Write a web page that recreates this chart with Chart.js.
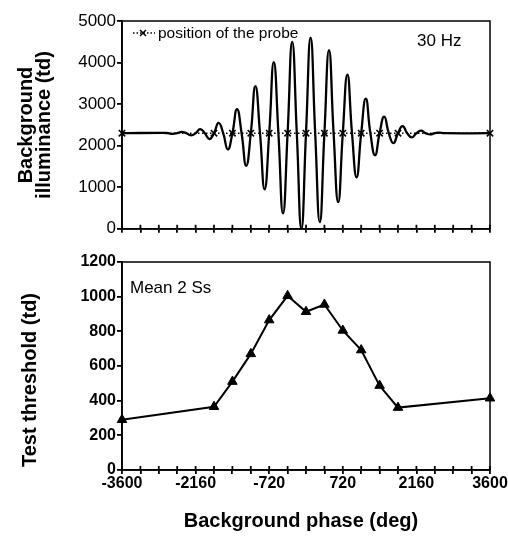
<!DOCTYPE html>
<html>
<head>
<meta charset="utf-8">
<script src="https://cdn.jsdelivr.net/npm/chart.js@4.4.1/dist/chart.umd.min.js"></script>
<style>
  html, body { margin: 0; padding: 0; background: #fff; }
  #wrap { position: relative; width: 508px; height: 544px; font-family: 'Liberation Sans', Arial, sans-serif; color: #000; }
  canvas { position: absolute; left: 0; }
  #chart-top { top: 0; }
  #chart-bot { top: 240px; }
  .ytitle { position: absolute; font-weight: bold; font-size: 20px; line-height: 18px; text-align: center;
            white-space: nowrap; transform: translate(-50%, -50%) rotate(-90deg); }
  .note { position: absolute; white-space: nowrap; transform: translateY(-50%); }
  #xtitle { position: absolute; left: 301px; top: 520px; transform: translate(-50%, -50%);
            font-weight: bold; font-size: 20px; white-space: nowrap; }
</style>
</head>
<body>
<div id="wrap">
  <canvas id="chart-top" width="508" height="240"></canvas>
  <canvas id="chart-bot" width="508" height="304"></canvas>
  <div class="ytitle" style="left:34px; top:125px;">Background<br>illuminance (td)</div>
  <div class="ytitle" style="left:29px; top:380px;">Test threshold (td)</div>
  <div id="xtitle">Background phase (deg)</div>
  <div class="note" style="left:158px; top:33px; font-size:15.5px;">position of the probe</div>
  <div class="note" style="left:417px; top:41px; font-size:17px;">30 Hz</div>
  <div class="note" style="left:130px; top:288px; font-size:17px;">Mean 2 Ss</div>
</div>
<script>
// background illuminance (every 90 deg near the centre)
const wavePhase = [
    -3600, -2790, -2700, -2610, -2520, -2430, -2340, -2250, -2160, -2070, -1980,
    -1890, -1800, -1710, -1620, -1530, -1440, -1350, -1260, -1170, -1080, -990,
    -900, -810, -720, -630, -540, -450, -360, -270, -180, -90, 0,
    90, 180, 270, 360, 450, 540, 630, 720, 810, 900, 990,
    1080, 1170, 1260, 1350, 1440, 1530, 1620, 1710, 1800, 1890, 1980,
    2070, 2160, 2250, 2340, 2430, 2520, 2610, 2700, 3600
];
const waveValue = [
    2300, 2310, 2300, 2285, 2300, 2330, 2300, 2250, 2300, 2400, 2300,
    2160, 2300, 2550, 2300, 1910, 2300, 2880, 2300, 1515, 2300, 3430,
    2300, 950, 2300, 4010, 2300, 370, 2300, 4500, 2300, 0, 2300,
    4600, 2300, 160, 2300, 4300, 2300, 640, 2300, 3710, 2300, 1240,
    2300, 3130, 2300, 1770, 2300, 2700, 2300, 2060, 2300, 2470, 2300,
    2200, 2300, 2360, 2300, 2270, 2300, 2315, 2300, 2300
];

// probe positions (x markers on the mean level)
const probePhase = [-3600, -1800, -1440, -1080, -720, -360, 0, 360, 720, 1080, 1440, 1800, 3600];
const probeValue = [2300, 2300, 2300, 2300, 2300, 2300, 2300, 2300, 2300, 2300, 2300, 2300, 2300];

// test threshold, mean of 2 subjects
const thrPhase = [-3600, -1800, -1440, -1080, -720, -360, 0, 360, 720, 1080, 1440, 1800, 3600];
const thrValue = [290, 365, 510, 670, 865, 1005, 913, 955, 805, 692, 487, 360, 414];

const xLabelTicks = [-3600, -2160, -720, 720, 2160, 3600];

const pts = (xs, ys) => xs.map((x, i) => ({ x, y: ys[i] }));

const AXIS_FONT = "'Liberation Sans', Arial, sans-serif";
const AXIS_W = 1.8;

// box round the plot + x ticks that also poke into the plot
const framePlugin = {
    id: 'frame',
    afterDatasetsDraw(chart) {
        const { ctx, chartArea: a, scales } = chart;
        ctx.save();
        ctx.strokeStyle = '#000';
        ctx.lineWidth = 1.5;
        ctx.strokeRect(a.left, a.top, a.right - a.left, a.bottom - a.top);
        ctx.lineWidth = AXIS_W;
        scales.x.ticks.forEach(t => {
            const px = scales.x.getPixelForValue(t.value);
            ctx.beginPath();
            ctx.moveTo(px, a.bottom);
            ctx.lineTo(px, a.bottom - 4);
            ctx.stroke();
        });
        ctx.restore();
    }
};

// legend symbol  ··×··
const legendPlugin = {
    id: 'probeLegend',
    afterDraw(chart) {
        const ctx = chart.ctx;
        const y = 33;
        ctx.save();
        ctx.strokeStyle = '#000';
        ctx.lineWidth = 1.5;
        ctx.setLineDash([1.5, 2]);
        ctx.beginPath();
        ctx.moveTo(133, y);
        ctx.lineTo(155, y);
        ctx.stroke();
        ctx.setLineDash([]);
        ctx.beginPath();
        ctx.moveTo(140, y - 3); ctx.lineTo(146, y + 3);
        ctx.moveTo(146, y - 3); ctx.lineTo(140, y + 3);
        ctx.stroke();
        ctx.restore();
    }
};

function xScale(showLabels, height) {
    return {
        type: 'linear',
        min: -3600,
        max: 3600,
        afterFit: s => { s.height = height; },
        afterBuildTicks: s => {
            const t = [];
            for (let v = -3600; v <= 3600; v += 360) t.push({ value: v });
            s.ticks = t;
        },
        ticks: {
            display: showLabels,
            autoSkip: false,
            maxRotation: 0,
            padding: 0,
            color: '#000',
            font: { family: AXIS_FONT, size: 16, weight: 'bold' },
            callback: v => xLabelTicks.includes(v) ? String(v) : ''
        },
        grid: { drawOnChartArea: false, drawTicks: true, tickLength: 4, color: '#000', lineWidth: AXIS_W },
        border: { display: true, color: '#000', width: AXIS_W }
    };
}

function yScale(max, step, bold, size) {
    return {
        min: 0,
        max,
        afterFit: s => { s.width = 122; },
        ticks: {
            stepSize: step,
            padding: 1,
            color: '#000',
            font: { family: AXIS_FONT, size, weight: bold ? 'bold' : 'normal' },
            callback: v => String(v)
        },
        grid: { drawOnChartArea: false, drawTicks: true, tickLength: 5, color: '#000', lineWidth: AXIS_W },
        border: { display: true, color: '#000', width: AXIS_W }
    };
}

const baseOptions = {
    responsive: false,
    animation: false,
    plugins: { legend: { display: false }, tooltip: { enabled: false } }
};

new Chart(document.getElementById('chart-top'), {
    type: 'line',
    data: {
        datasets: [
            {
                data: pts(probePhase, probeValue),
                borderColor: '#000',
                borderWidth: 1.5,
                borderDash: [1.5, 2.5],
                pointStyle: 'crossRot',
                pointRadius: 4.5,
                pointBorderWidth: 1.6,
                pointBorderColor: '#000',
                clip: false,
                order: 0
            },
            {
                data: pts(wavePhase, waveValue),
                borderColor: '#000',
                borderWidth: 2.3,
                tension: 0.5,
                pointRadius: 0,
                order: 1
            }
        ]
    },
    options: {
        ...baseOptions,
        layout: { padding: { left: 0, right: 18, top: 21, bottom: 0 } },
        scales: {
            x: xScale(false, 10),
            y: yScale(5000, 1000, false, 17)
        }
    },
    plugins: [framePlugin, legendPlugin]
});

new Chart(document.getElementById('chart-bot'), {
    type: 'line',
    data: {
        datasets: [{
            data: pts(thrPhase, thrValue),
            borderColor: '#000',
            borderWidth: 2,
            tension: 0,
            pointStyle: 'triangle',
            pointRadius: 5.5,
            pointBackgroundColor: '#000',
            pointBorderColor: '#000',
            pointBorderWidth: 1,
            clip: false
        }]
    },
    options: {
        ...baseOptions,
        layout: { padding: { left: 0, right: 18, top: 22, bottom: 0 } },
        scales: {
            x: xScale(true, 74),
            y: yScale(1200, 200, true, 16)
        }
    },
    plugins: [framePlugin]
});
</script>
</body>
</html>
